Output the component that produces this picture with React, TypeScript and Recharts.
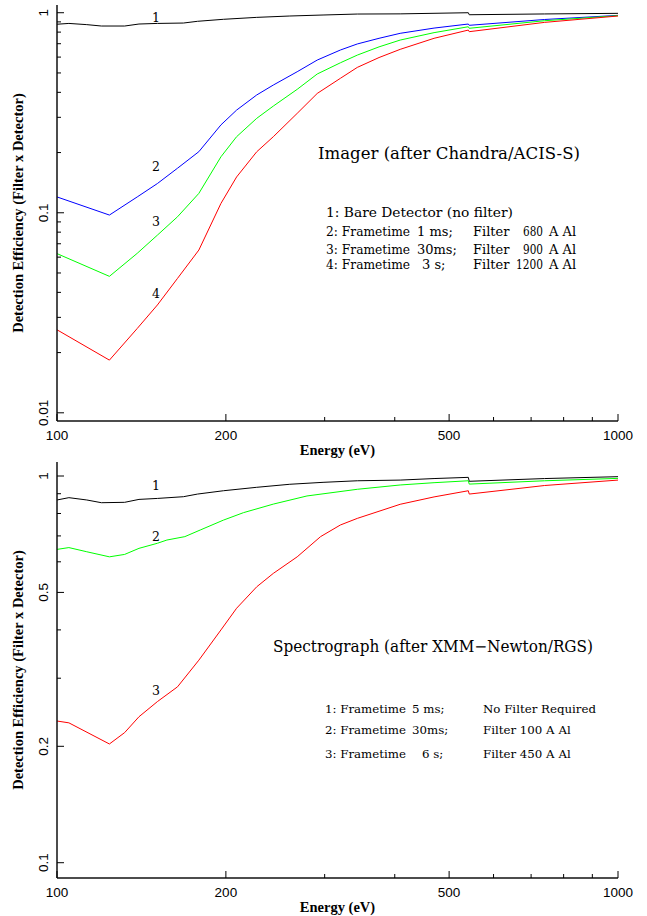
import React from 'react';
import { LineChart, Line, XAxis, YAxis } from 'recharts';

// ---------- axis ticks ----------
const energyTicks = [100, 200, 300, 400, 500, 600, 700, 800, 900, 1000];
const energyTickLabels = [100, 200, 500, 1000];

const imagerYTicks = [
  0.01, 0.02, 0.03, 0.04, 0.05, 0.06, 0.07, 0.08, 0.09,
  0.1, 0.2, 0.3, 0.4, 0.5, 0.6, 0.7, 0.8, 0.9, 1,
];
const imagerYTickLabels = [0.01, 0.1, 1];

const spectroYTicks = [0.1, 0.2, 0.3, 0.4, 0.5, 0.6, 0.7, 0.8, 0.9, 1];
const spectroYTickLabels = [0.1, 0.2, 0.5, 1];

// ---------- Imager (after Chandra/ACIS-S) ----------
const imagerBareE = [100, 105, 113, 120, 132, 140, 151, 168, 178, 198, 227, 260, 298, 343, 409, 541, 543, 740, 1000];
const imagerBareV = [0.876, 0.884, 0.872, 0.858, 0.858, 0.878, 0.884, 0.888, 0.906, 0.927, 0.948, 0.963, 0.974, 0.985, 0.987, 1.0, 0.977, 0.986, 0.993];

const imagerFilterE = [100, 124, 139, 151, 164, 179, 196, 209, 227, 243, 268, 291, 320, 343, 375, 409, 470, 541, 543, 740, 1000];
const imager680V = [0.12, 0.0974, 0.12, 0.14, 0.167, 0.202, 0.275, 0.326, 0.388, 0.435, 0.507, 0.58, 0.651, 0.698, 0.745, 0.789, 0.838, 0.878, 0.865, 0.925, 0.97];
const imager900V = [0.0625, 0.0481, 0.0627, 0.0773, 0.0955, 0.125, 0.1905, 0.24, 0.2965, 0.3415, 0.414, 0.494, 0.562, 0.614, 0.675, 0.73, 0.795, 0.851, 0.836, 0.912, 0.967];
const imager1200V = [0.026, 0.01834, 0.0264, 0.0346, 0.047, 0.0651, 0.1114, 0.151, 0.2018, 0.24, 0.314, 0.395, 0.47, 0.533, 0.597, 0.656, 0.745, 0.819, 0.804, 0.895, 0.963];

// ---------- Spectrograph (after XMM-Newton/RGS) ----------
const spectroNoFilterE = [100, 105, 113, 120, 132, 140, 151, 168, 178, 198, 227, 260, 298, 343, 409, 470, 541, 543, 740, 1000];
const spectroNoFilterV = [0.867, 0.879, 0.867, 0.853, 0.855, 0.87, 0.875, 0.884, 0.898, 0.916, 0.935, 0.952, 0.963, 0.972, 0.976, 0.985, 0.992, 0.969, 0.985, 0.996];

const spectro100E = [100, 105, 113, 124, 132, 140, 151, 157, 169, 180, 198, 215, 243, 279, 343, 409, 470, 541, 543, 740, 1000];
const spectro100V = [0.646, 0.653, 0.637, 0.618, 0.627, 0.65, 0.67, 0.683, 0.697, 0.725, 0.769, 0.804, 0.846, 0.888, 0.924, 0.948, 0.961, 0.972, 0.953, 0.972, 0.986];

const spectro450E = [100, 105, 124, 132, 140, 151, 164, 179, 196, 209, 227, 243, 268, 295, 320, 343, 409, 470, 541, 543, 740, 1000];
const spectro450V = [0.2325, 0.23, 0.2028, 0.217, 0.2385, 0.261, 0.285, 0.334, 0.4, 0.455, 0.517, 0.56, 0.618, 0.697, 0.747, 0.777, 0.845, 0.883, 0.916, 0.898, 0.945, 0.976];

// ---------- text ----------
const imagerTitle = 'Imager (after Chandra/ACIS-S)';
const spectroTitle = 'Spectrograph (after XMM\u2212Newton/RGS)';
const yTitle = 'Detection Efficiency (Filter x Detector)';
const xTitle = 'Energy (eV)';

type Series = { e: number[]; v: number[]; color: string };

const imagerSeries: Series[] = [
  { e: imagerBareE, v: imagerBareV, color: '#000000' },
  { e: imagerFilterE, v: imager680V, color: '#0000ff' },
  { e: imagerFilterE, v: imager900V, color: '#00ff00' },
  { e: imagerFilterE, v: imager1200V, color: '#ff0000' },
];
const spectroSeries: Series[] = [
  { e: spectroNoFilterE, v: spectroNoFilterV, color: '#000000' },
  { e: spectro100E, v: spectro100V, color: '#00ff00' },
  { e: spectro450E, v: spectro450V, color: '#ff0000' },
];

const toPoints = (e: number[], v: number[]) => e.map((x, i) => ({ e: x, v: v[i] }));

const SANS = 'Liberation Sans, Arial, sans-serif';
const SERIF = 'DejaVu Serif, serif';
const BOLDSERIF = 'Liberation Serif, serif';

function renderTick(props: any, side: string, labels: number[]) {
  const { x, y, payload } = props;
  const val = payload.value as number;
  const major = labels.some((l) => Math.abs(l - val) < 1e-9);
  const len = major ? 7 : 4;
  let x2 = x;
  let y2 = y;
  if (side === 'bottom') y2 = y - len;
  else if (side === 'top') y2 = y + len;
  else if (side === 'left') x2 = x + len;
  else x2 = x - len;
  return (
    <g>
      <line x1={x} y1={y} x2={x2} y2={y2} stroke="#000" strokeWidth={1} />
      {major && side === 'bottom' && (
        <text x={x} y={y + 19} textAnchor="middle" fontFamily={SANS} fontSize={13.5} fill="#000">
          {String(val)}
        </text>
      )}
      {major && side === 'left' && (
        <text
          x={x - 9}
          y={y}
          textAnchor="middle"
          transform={`rotate(-90 ${x - 9} ${y})`}
          fontFamily={SANS}
          fontSize={13.5}
          fill="#000"
        >
          {String(val)}
        </text>
      )}
    </g>
  );
}

const axisLine = { stroke: '#111', strokeWidth: 1.5 };

function Panel(props: {
  series: Series[];
  yDomain: [number, number];
  yTicks: number[];
  yLabels: number[];
  top: number;
  marginTop: number;
  xAxisHeight: number;
}) {
  const { series, yDomain, yTicks, yLabels, top, marginTop, xAxisHeight } = props;
  return (
    <div style={{ position: 'absolute', left: 0, top }}>
      <LineChart width={647} height={458} margin={{ top: marginTop, right: 29, bottom: 0, left: 0 }}>
        <XAxis
          xAxisId="b"
          dataKey="e"
          type="number"
          scale="log"
          domain={[100, 1000]}
          allowDataOverflow
          ticks={energyTicks}
          interval={0}
          tickSize={0}
          tickMargin={0}
          tickLine={false}
          axisLine={axisLine}
          height={xAxisHeight}
          tick={(p: any) => renderTick(p, 'bottom', energyTickLabels)}
        />
        <XAxis
          xAxisId="t"
          orientation="top"
          dataKey="e"
          type="number"
          scale="log"
          domain={[100, 1000]}
          allowDataOverflow
          ticks={energyTicks}
          interval={0}
          tickSize={0}
          tickMargin={0}
          tickLine={false}
          axisLine={axisLine}
          height={0}
          tick={(p: any) => renderTick(p, 'top', energyTickLabels)}
        />
        <YAxis
          yAxisId="l"
          dataKey="v"
          type="number"
          scale="log"
          domain={yDomain}
          allowDataOverflow
          ticks={yTicks}
          interval={0}
          tickSize={0}
          tickMargin={0}
          tickLine={false}
          axisLine={axisLine}
          width={57}
          tick={(p: any) => renderTick(p, 'left', yLabels)}
        />
        <YAxis
          yAxisId="r"
          orientation="right"
          dataKey="v"
          type="number"
          scale="log"
          domain={yDomain}
          allowDataOverflow
          ticks={yTicks}
          interval={0}
          tickSize={0}
          tickMargin={0}
          tickLine={false}
          axisLine={axisLine}
          width={0}
          tick={(p: any) => renderTick(p, 'right', yLabels)}
        />
        {series.map((s, i) => (
          <Line
            key={i}
            xAxisId="b"
            yAxisId="l"
            data={toPoints(s.e, s.v)}
            dataKey="v"
            type="linear"
            stroke={s.color}
            strokeWidth={1}
            dot={false}
            activeDot={false}
            isAnimationActive={false}
          />
        ))}
      </LineChart>
    </div>
  );
}

export default function App() {
  const t = { fill: '#000' };
  const sa = 'spacingAndGlyphs';
  return (
    <div style={{ position: 'absolute', left: 0, top: 0, width: 647, height: 916, background: '#fff' }}>
      <Panel
        series={imagerSeries}
        yDomain={[0.0091, 1.093]}
        yTicks={imagerYTicks}
        yLabels={imagerYTickLabels}
        top={0}
        marginTop={5}
        xAxisHeight={37}
      />
      <Panel
        series={spectroSeries}
        yDomain={[0.0913, 1.087]}
        yTicks={spectroYTicks}
        yLabels={spectroYTickLabels}
        top={458}
        marginTop={4}
        xAxisHeight={38}
      />
      <svg
        width={647}
        height={916}
        style={{ position: 'absolute', left: 0, top: 0, pointerEvents: 'none' }}
      >
        {/* axis titles */}
        <g fontFamily={BOLDSERIF} fontWeight="bold" fontSize={14.5} {...t}>
          <text x={23} y={213} textAnchor="middle" transform="rotate(-90 23 213)">{yTitle}</text>
          <text x={23} y={670} textAnchor="middle" transform="rotate(-90 23 670)">{yTitle}</text>
          <text x={337.5} y={455} textAnchor="middle">{xTitle}</text>
          <text x={337.5} y={912} textAnchor="middle">{xTitle}</text>
        </g>

        {/* curve numbers */}
        <g fontFamily={SERIF} fontSize={12.5} textAnchor="middle" {...t}>
          <text x={156} y={21.5}>1</text>
          <text x={156} y={171}>2</text>
          <text x={156} y={226}>3</text>
          <text x={156} y={297.5}>4</text>
          <text x={156} y={489.5}>1</text>
          <text x={156} y={541}>2</text>
          <text x={156} y={694.5}>3</text>
        </g>

        {/* imager legend */}
        <text x={318} y={159} fontFamily={SERIF} fontSize={16} textLength={262} lengthAdjust={sa} {...t}>{imagerTitle}</text>
        <g fontFamily={SERIF} fontSize={13} {...t}>
          <text x={326} y={217} textLength={187} lengthAdjust={sa}>1: Bare Detector (no filter)</text>
          <text x={326} y={236} textLength={84} lengthAdjust={sa}>2: Frametime</text>
          <text x={417} y={236}>1 ms;</text>
          <text x={473} y={236}>Filter</text>
          <text x={543} y={236} textAnchor="end" textLength={20} lengthAdjust={sa}>680</text>
          <text x={549} y={236}>A Al</text>
          <text x={326} y={254} textLength={84} lengthAdjust={sa}>3: Frametime</text>
          <text x={417} y={254}>30ms;</text>
          <text x={473} y={254}>Filter</text>
          <text x={543} y={254} textAnchor="end" textLength={20} lengthAdjust={sa}>900</text>
          <text x={549} y={254}>A Al</text>
          <text x={326} y={269} textLength={84} lengthAdjust={sa}>4: Frametime</text>
          <text x={422} y={269}>3 s;</text>
          <text x={473} y={269}>Filter</text>
          <text x={543} y={269} textAnchor="end" textLength={27} lengthAdjust={sa}>1200</text>
          <text x={549} y={269}>A Al</text>
        </g>

        {/* spectrograph legend */}
        <text x={273} y={652} fontFamily={SERIF} fontSize={16} textLength={320} lengthAdjust={sa} {...t}>{spectroTitle}</text>
        <g fontFamily={SERIF} fontSize={11.8} {...t}>
          <text x={325} y={713}>1: Frametime</text>
          <text x={412} y={713}>5 ms;</text>
          <text x={483} y={713}>No Filter Required</text>
          <text x={325} y={734}>2: Frametime</text>
          <text x={412} y={734}>30ms;</text>
          <text x={483} y={734}>Filter 100 A Al</text>
          <text x={325} y={758}>3: Frametime</text>
          <text x={422} y={758}>6 s;</text>
          <text x={483} y={758}>Filter 450 A Al</text>
        </g>
      </svg>
    </div>
  );
}
